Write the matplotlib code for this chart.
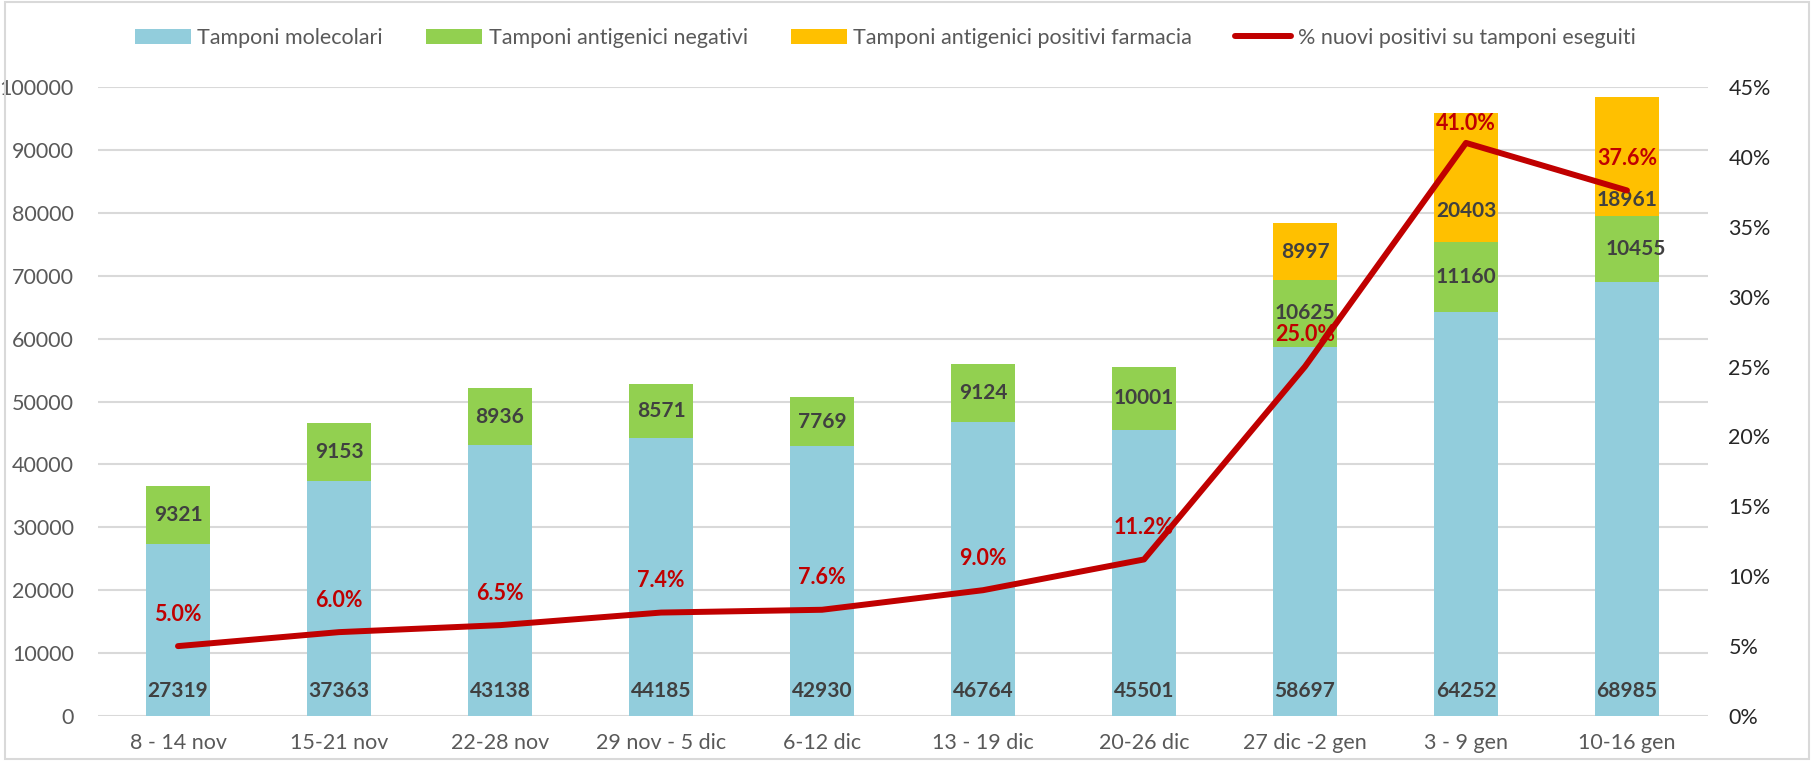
import matplotlib
matplotlib.use("Agg")
import matplotlib.pyplot as plt
from matplotlib.patches import Rectangle
import numpy as np

categories = ["8 - 14 nov", "15-21 nov", "22-28 nov", "29 nov - 5 dic", "6-12 dic",
              "13 - 19 dic", "20-26 dic", "27 dic -2 gen", "3 - 9 gen", "10-16 gen"]
molecolari = [27319, 37363, 43138, 44185, 42930, 46764, 45501, 58697, 64252, 68985]
antigenici_neg = [9321, 9153, 8936, 8571, 7769, 9124, 10001, 10625, 11160, 10455]
antigenici_pos = [0, 0, 0, 0, 0, 0, 0, 8997, 20403, 18961]
perc_positivi = [5.0, 6.0, 6.5, 7.4, 7.6, 9.0, 11.2, 25.0, 41.0, 37.6]

left_ticks = list(range(0, 100001, 10000))
right_ticks = list(range(0, 46, 5))

plt.rcParams['font.family'] = ['Lato', 'DejaVu Sans']

C_BLUE = "#92CDDC"
C_GREEN = "#92D050"
C_ORANGE = "#FFC000"
C_RED = "#C00000"
C_TXT = "#404040"
C_GRID = "#D9D9D9"

fig = plt.figure(figsize=(18.14, 7.61), dpi=100)
ax = fig.add_axes([97.5/1814, 1-716/761, (1707.5-97.5)/1814, (716-87)/761])
x = np.arange(len(categories))
w = 0.4

ax.bar(x, molecolari, w, color=C_BLUE, label="Tamponi molecolari", zorder=2)
ax.bar(x, antigenici_neg, w, bottom=molecolari, color=C_GREEN,
       label="Tamponi antigenici negativi", zorder=2)
bottom2 = [a + b for a, b in zip(molecolari, antigenici_neg)]
pos_x = [i for i in x if antigenici_pos[i] > 0]
ax.bar(pos_x, [antigenici_pos[i] for i in pos_x], w, bottom=[bottom2[i] for i in pos_x],
       color=C_ORANGE, label="Tamponi antigenici positivi farmacia", zorder=2)

ax.set_ylim(0, 100000)
ax.set_xlim(-0.5, len(categories) - 0.5)
ax.set_yticks(left_ticks)
ax.set_yticklabels([str(t) for t in left_ticks])
ax.set_xticks(x)
ax.set_xticklabels(categories)
ax.tick_params(axis='both', length=0, labelsize=15.5, colors="#595959")
ax.tick_params(axis='x', pad=12)
ax.tick_params(axis='y', pad=17)
ax.grid(axis='y', color=C_GRID, linewidth=1.5, zorder=0)
for s in ax.spines.values():
    s.set_visible(False)

# data labels
lbl = dict(ha='center', va='center', fontsize=15, fontweight='bold', color=C_TXT, zorder=5)
for i in x:
    ax.annotate(str(molecolari[i]), (i, 0), xytext=(0, 18), textcoords='offset points', **lbl)
neg_dx = [0, 0, 0, 0, 0, 0, 0, 0, 0, 6]
for i in x:
    ax.annotate(str(antigenici_neg[i]), (i, molecolari[i] + antigenici_neg[i] / 2),
                xytext=(neg_dx[i], 0), textcoords='offset points', **lbl)
pos_dy = [0, 0, 0, 0, 0, 0, 0, 0, -24, -31]
for i in pos_x:
    ax.annotate(str(antigenici_pos[i]), (i, bottom2[i] + antigenici_pos[i] / 2),
                xytext=(0, pos_dy[i]), textcoords='offset points', **lbl)

ax2 = ax.twinx()
ax2.set_ylim(0, 45)
ax2.set_yticks(right_ticks)
ax2.set_yticklabels([f"{t}%" for t in right_ticks])
ax2.tick_params(axis='y', length=0, labelsize=15.5, colors="#262626", pad=15)
for s in ax2.spines.values():
    s.set_visible(False)
ax2.plot(x, perc_positivi, color=C_RED, linewidth=4.3, solid_capstyle='round',
         label="% nuovi positivi su tamponi eseguiti", zorder=4)
pc_dy = [23, 23, 23, 23, 23, 23, 23, 23, 14, 23]
for i in x:
    ax2.annotate(f"{perc_positivi[i]:.1f}%", (i, perc_positivi[i]), xytext=(0, pc_dy[i]),
                 textcoords='offset points', ha='center', va='center', fontsize=15.5,
                 fontweight='bold', color=C_RED, zorder=6)

h1, l1 = ax.get_legend_handles_labels()
h2, l2 = ax2.get_legend_handles_labels()
leg = fig.legend(h1 + h2, l1 + l2, loc='center', bbox_to_anchor=(0.488, 1 - 38/761), ncol=4,
                 frameon=False, fontsize=15.5, handlelength=2.6, handleheight=0.7,
                 columnspacing=2.0, handletextpad=0.3)
for t in leg.get_texts():
    t.set_color("#595959")

fig.patches.append(Rectangle((0.003, 0.003), 0.994, 0.994, transform=fig.transFigure,
                             fill=False, edgecolor=C_GRID, linewidth=1.5))

fig.savefig("out.png", dpi=100)
